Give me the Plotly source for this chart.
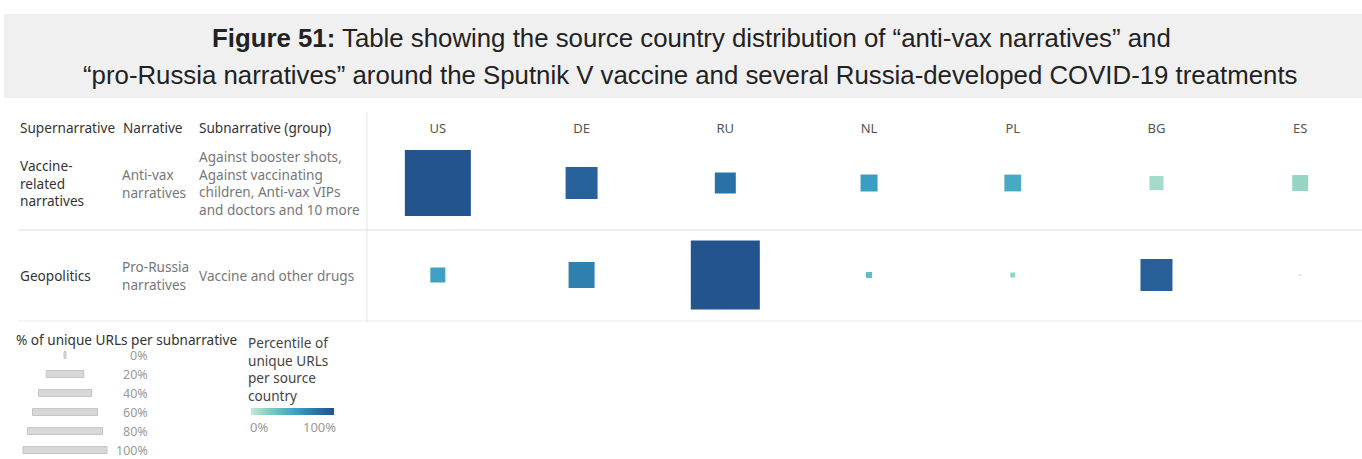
import plotly.graph_objects as go

# ---------------- data ----------------
countries = ["US", "DE", "RU", "NL", "PL", "BG", "ES"]
row_index = [0, 1]
# % of unique URLs per subnarrative (size) for each row
pct_antivax = [61.7, 14.5, 6.25, 4.1, 4.0, 2.8, 3.6]
pct_prorussia = [3.2, 9.6, 67.5, 0.5, 0.35, 14.5, 0.06]
# percentile of unique URLs per source country (colour)
pctl_antivax = [100, 90, 80, 55, 48, 10, 15]
pctl_prorussia = [53, 72, 100, 35, 17, 92, 0]

supernarratives = ["Vaccine-<br>related<br>narratives", "Geopolitics"]
narratives = ["Anti-vax<br>narratives", "Pro-Russia<br>narratives"]
subnarratives = ["Against booster shots,<br>Against vaccinating<br>children, Anti-vax VIPs<br>and doctors and 10 more",
                 "Vaccine and other drugs"]
headers = ["Supernarrative", "Narrative", "Subnarrative (group)"]

size_legend_values = [0, 20, 40, 60, 80, 100]
size_legend_labels = ["0%", "20%", "40%", "60%", "80%", "100%"]
color_legend_title = "Percentile of<br>unique URLs<br>per source<br>country"
color_legend_labels = ["0%", "100%"]

title_line1 = "<b>Figure 51:</b> Table showing the source country distribution of “anti-vax narratives” and"
title_line2 = "“pro-Russia narratives” around the Sputnik V vaccine and several Russia-developed COVID-19 treatments"

# ---------------- styling ----------------
W, H = 1362, 459
MAX_SIDE = 84  # px side of a square at 100%
FONT = "Noto Sans"
TFONT = "Liberation Sans, Arial"
FS = 13.6
colorscale = [[0, "#c4e8da"], [0.15, "#96d5c3"], [0.35, "#5fbcc0"], [0.55, "#3a9ec3"],
              [0.78, "#2b74a8"], [1, "#23548e"]]


def px_x(x):
    return x / W


def px_y(y):
    return 1 - y / H


def side(p):
    return MAX_SIDE * (p / 100) ** 0.5


xs, ys, sizes, colors, texts = [], [], [], [], []
for r, (pcts, pctls) in enumerate([(pct_antivax, pctl_antivax), (pct_prorussia, pctl_prorussia)]):
    for c, p, q in zip(countries, pcts, pctls):
        xs.append(c)
        ys.append(row_index[r])
        sizes.append(max(side(p), 2))
        colors.append(q)
        texts.append(f"{c}: {p}%")

fig = go.Figure()

fig.add_trace(go.Scatter(
    x=xs, y=ys, mode="markers", text=texts, hoverinfo="text",
    marker=dict(symbol="square", size=sizes, color=colors, cmin=0, cmax=100, opacity=1,
                colorscale=colorscale, line=dict(width=0),
                colorbar=dict(orientation="h", x=px_x(251), xanchor="left",
                              y=px_y(408), yanchor="top", len=83, lenmode="pixels",
                              thickness=7, thicknessmode="pixels", outlinewidth=0,
                              xpad=0, ypad=0, showticklabels=False, ticks="",
                              title=dict(text=""))),
    showlegend=False, xaxis="x", yaxis="y"))

# size legend as bars
widths = [max(side(v), 2) for v in size_legend_values]
fig.add_trace(go.Bar(
    x=widths, y=list(range(len(widths))), base=[-w / 2 for w in widths], orientation="h",
    width=0.36, marker=dict(color="#d8d8d8", line=dict(color="#c4c4c4", width=1)),
    hoverinfo="skip", showlegend=False, xaxis="x2", yaxis="y2"))

annotations = []
# title
annotations.append(dict(text=title_line1, x=px_x(692), y=px_y(38), xref="paper", yref="paper",
                        showarrow=False, xanchor="center", yanchor="middle",
                        font=dict(family=TFONT, size=25.8, color="#222")))
annotations.append(dict(text=title_line2, x=px_x(690), y=px_y(75), xref="paper", yref="paper",
                        showarrow=False, xanchor="center", yanchor="middle",
                        font=dict(family=TFONT, size=25.8, color="#222")))

# table headers
for t, xp in zip(headers, [18, 121, 197]):
    annotations.append(dict(text=t, x=px_x(xp), y=px_y(128), xref="paper", yref="paper", showarrow=False,
                            xanchor="left", yanchor="middle", font=dict(family=FONT, size=FS, color="#333")))
# row labels
for r in row_index:
    annotations.append(dict(text=supernarratives[r], x=px_x(18), y=r, xref="paper", yref="y", showarrow=False,
                            xanchor="left", yanchor="middle", align="left",
                            font=dict(family=FONT, size=FS, color="#333")))
    annotations.append(dict(text=narratives[r], x=px_x(120), y=r, xref="paper", yref="y", showarrow=False,
                            xanchor="left", yanchor="middle", align="left",
                            font=dict(family=FONT, size=FS, color="#777")))
    annotations.append(dict(text=subnarratives[r], x=px_x(197), y=r, xref="paper", yref="y", showarrow=False,
                            xanchor="left", yanchor="middle", align="left",
                            font=dict(family=FONT, size=FS, color="#777")))

# size legend
annotations.append(dict(text="% of unique URLs per subnarrative", x=px_x(14), y=px_y(339), xref="paper",
                        yref="paper", showarrow=False, xanchor="left", yanchor="middle",
                        font=dict(family=FONT, size=FS, color="#333")))
for i, lab in enumerate(size_legend_labels):
    annotations.append(dict(text=lab, x=px_x(150), y=i, xref="paper", yref="y2", showarrow=False,
                            xanchor="right", yanchor="middle", font=dict(family=FONT, size=12.5, color="#999")))
# colour legend
annotations.append(dict(text=color_legend_title, x=px_x(246), y=px_y(331), xref="paper", yref="paper",
                        showarrow=False, xanchor="left", yanchor="top", align="left",
                        font=dict(family=FONT, size=FS, color="#444")))
annotations.append(dict(text=color_legend_labels[0], x=px_x(248), y=px_y(427), xref="paper", yref="paper",
                        showarrow=False, xanchor="left", yanchor="middle",
                        font=dict(family=FONT, size=13, color="#999")))
annotations.append(dict(text=color_legend_labels[1], x=px_x(338), y=px_y(427), xref="paper", yref="paper",
                        showarrow=False, xanchor="right", yanchor="middle",
                        font=dict(family=FONT, size=13, color="#999")))

shapes = [
    dict(type="rect", xref="paper", yref="paper", x0=px_x(4), x1=1, y0=px_y(98), y1=px_y(14),
         fillcolor="#f0f0f0", line=dict(width=0), layer="below"),
    dict(type="line", xref="paper", yref="paper", x0=px_x(18), x1=1, y0=px_y(230), y1=px_y(230),
         line=dict(color="#dcdcdc", width=1)),
    dict(type="line", xref="paper", yref="paper", x0=px_x(18), x1=1, y0=px_y(321), y1=px_y(321),
         line=dict(color="#ededed", width=1)),
    dict(type="line", xref="paper", yref="paper", x0=px_x(367), x1=px_x(367), y0=px_y(112), y1=px_y(322),
         line=dict(color="#e3e3e3", width=1)),
]

fig.update_layout(
    width=W, height=H, margin=dict(l=0, r=0, t=0, b=0, autoexpand=False),
    paper_bgcolor="white", plot_bgcolor="rgba(0,0,0,0)",
    xaxis=dict(domain=[px_x(366), 1], type="category", categoryorder="array", categoryarray=countries,
               range=[-0.5, 6.43], side="top", showgrid=False, zeroline=False, showline=False, ticks="",
               tickfont=dict(family=FONT, size=13, color="#555"), fixedrange=True),
    yaxis=dict(domain=[px_y(321), px_y(137)], range=[1.5, -0.5], visible=False, fixedrange=True),
    xaxis2=dict(domain=[0, px_x(130)], range=[-65, 65], visible=False, anchor="y2", fixedrange=True),
    yaxis2=dict(domain=[0, px_y(345.5)], range=[5.47, -0.5], visible=False, anchor="x2", fixedrange=True),
    annotations=annotations, shapes=shapes,
)

fig.write_html("out.html", config={"displayModeBar": False},
               post_script="document.body.style.margin='0';")
